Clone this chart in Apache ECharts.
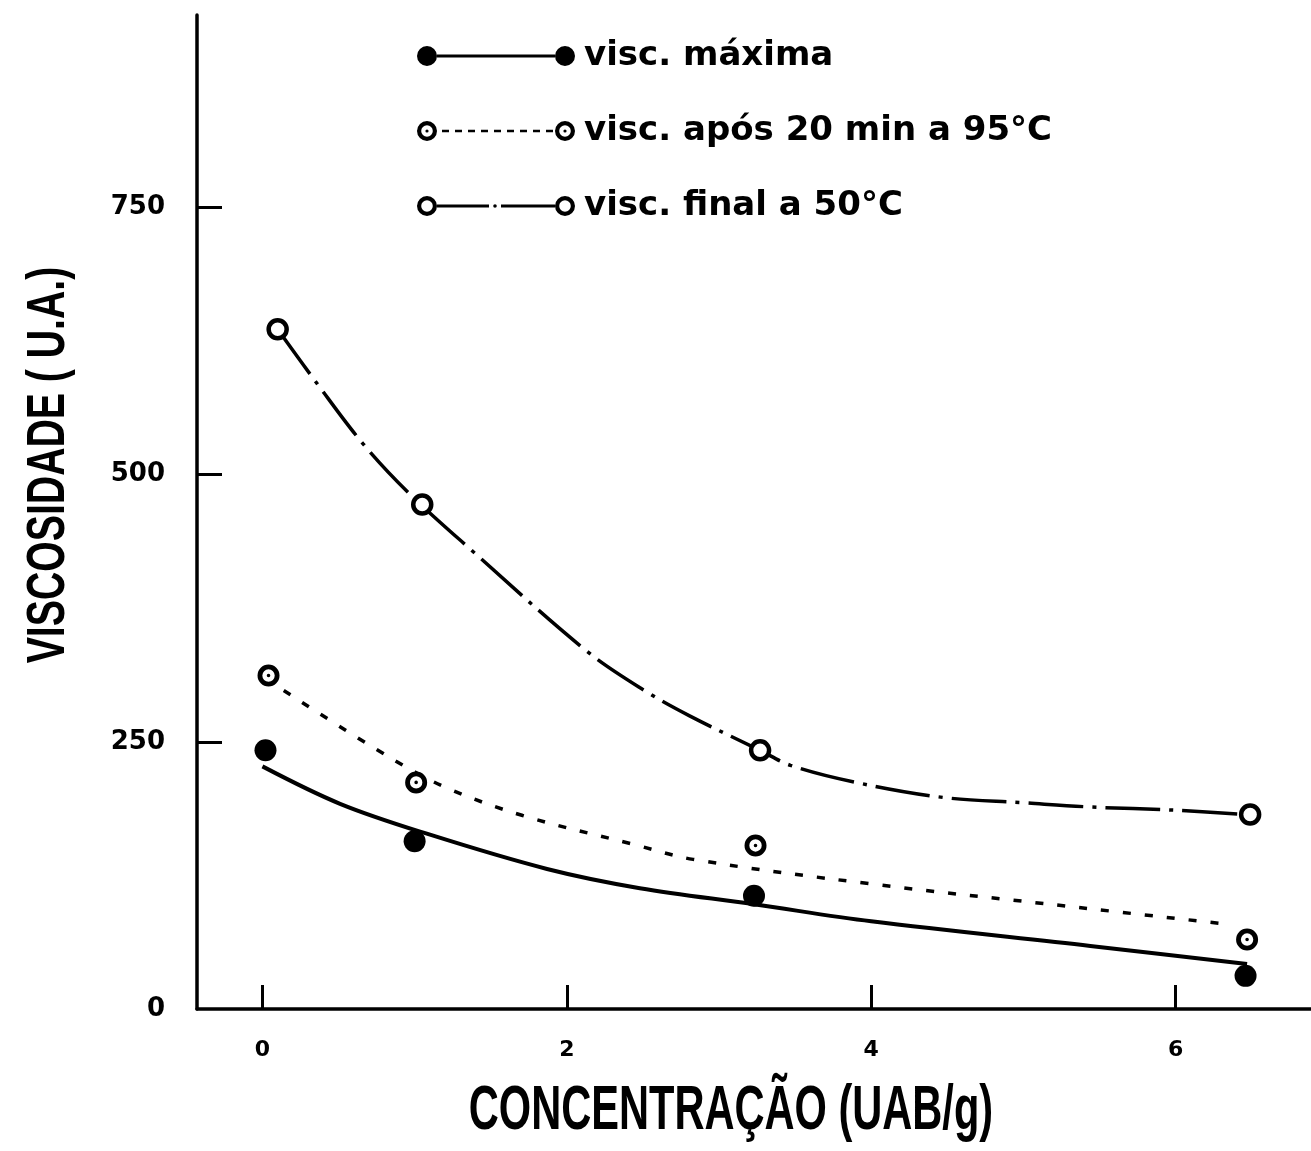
<!DOCTYPE html>
<html>
<head>
<meta charset="utf-8">
<script src="https://cdn.jsdelivr.net/npm/echarts@6/dist/echarts.min.js"></script>
<style>
  html, body { margin: 0; padding: 0; background: #fff; }
  #chart { width: 1311px; height: 1151px; }
</style>
</head>
<body>
<div id="chart"></div>
<script>
// Viscosidade do amido em função da concentração de enzima (UAB/g)

const seriesNames = ['visc. máxima', 'visc. após 20 min a 95°C', 'visc. final a 50°C'];
const xTicks = [0, 2, 4, 6];
const yTicks = [0, 250, 500, 750];
const yTickMarks = [250, 500, 750];
const xTitle = 'CONCENTRAÇÃO (UAB/g)';
const yTitle = 'VISCOSIDADE ( U.A.)';

// measured points
const maximaX = [0.02, 1.00, 3.23, 6.46];
const maximaY = [242, 157, 106, 31];
const aposX = [0.04, 1.01, 3.24, 6.47];
const aposY = [312, 212, 153, 65];
const finalX = [0.10, 1.05, 3.27, 6.49];
const finalY = [636, 472, 242, 182];

// hand-fitted curves
const curvaMaximaX = [0.00, 0.51, 1.08, 1.87, 2.48, 3.23, 4.00, 5.44, 6.47];
const curvaMaximaY = [227, 192, 164, 131, 113, 98, 82, 59, 42];
const curvaAposX = [0.14, 0.84, 1.21, 1.71, 2.44, 2.83, 4.00, 5.30, 6.36];
const curvaAposY = [298, 235, 207, 181, 154, 140, 117, 96, 79];
const curvaFinalX = [0.10, 0.36, 0.66, 0.96, 1.36, 2.13, 2.51, 2.81, 3.27, 3.47, 3.90, 4.47, 5.00, 5.44, 6.00, 6.45];
const curvaFinalY = [636, 585, 529, 483, 431, 335, 298, 274, 242, 228, 212, 198, 193, 189, 186, 182];

const pairs = (xs, ys) => xs.map((x, i) => [x, ys[i]]);

// --- symbol and legend icon shapes ---
function circ(cx, cy, r, cw) {
  const s = cw ? 1 : 0;
  return `M${cx - r},${cy}A${r},${r},0,1,${s},${cx + r},${cy}A${r},${r},0,1,${s},${cx - r},${cy}Z`;
}
function bar(x0, x1, cy, h) {
  return `M${x0},${cy - h / 2}L${x1},${cy - h / 2}L${x1},${cy + h / 2}L${x0},${cy + h / 2}Z`;
}
const ringDotSymbol = 'path://' + circ(11, 11, 11, true) + circ(11, 11, 6.2, false) + circ(11, 11, 1.8, true);

function ring(cx, withDot) {
  return circ(cx, 10, 10, true) + circ(cx, 10, 5.8, false) + (withDot ? circ(cx, 10, 1.6, true) : '');
}
const iconFilled = 'path://' + circ(10, 10, 10, true) + bar(20, 138, 10, 3) + circ(148, 10, 10, true);
let dashes = '';
for (let x = 25; x + 7 <= 136; x += 13) dashes += bar(x, x + 7, 10, 2.6);
const iconDotted = 'path://' + ring(10, true) + dashes + ring(148, true);
const iconOpen = 'path://' + ring(10, false) + bar(20, 72, 10, 2.8) + circ(78, 10, 1.8, true) + bar(84, 138, 10, 2.8) + ring(148, false);
const legendIcons = [iconFilled, iconDotted, iconOpen];

const labelFont = { fontFamily: 'DejaVu Sans', fontWeight: 'bold', color: '#000' };

const chart = echarts.init(document.getElementById('chart'), null, { renderer: 'canvas' });
chart.setOption({
  animation: false,
  backgroundColor: '#fff',
  grid: { left: 197, right: 0, top: 15, bottom: 142, containLabel: false },
  legend: {
    orient: 'vertical',
    left: 412,
    top: 31,
    itemWidth: 158,
    itemHeight: 20,
    itemGap: 35,
    selectedMode: false,
    data: seriesNames.map((n, i) => ({ name: n, icon: legendIcons[i] })),
    itemStyle: { color: '#000', borderWidth: 0 },
    textStyle: {
      fontFamily: 'DejaVu Sans', fontWeight: 'bold', fontSize: 34, color: '#000',
      lineHeight: 40, padding: [0, 0, 0, 4]
    }
  },
  xAxis: {
    type: 'value',
    min: -0.43,
    max: 6.89,
    axisLine: { show: true, lineStyle: { color: '#000', width: 3.5 } },
    axisTick: { show: true, inside: true, length: 24, customValues: xTicks, lineStyle: { color: '#000', width: 3 } },
    axisLabel: Object.assign({ customValues: xTicks, margin: 30, fontSize: 22 }, labelFont),
    splitLine: { show: false }
  },
  yAxis: {
    type: 'value',
    min: 0,
    max: 930,
    axisLine: { show: true, onZero: false, lineStyle: { color: '#000', width: 3.5 } },
    axisTick: { show: true, inside: true, length: 25, customValues: yTickMarks, lineStyle: { color: '#000', width: 3 } },
    axisLabel: Object.assign({ customValues: yTicks, margin: 32, fontSize: 26 }, labelFont),
    splitLine: { show: false }
  },
  graphic: [
    {
      type: 'text', x: 731, y: 1112, scaleX: 0.66,
      style: { text: xTitle, font: 'bold 63px "Liberation Sans"', fill: '#000', align: 'center', verticalAlign: 'middle' }
    },
    {
      type: 'text', x: 49, y: 465, rotation: Math.PI / 2, scaleX: 0.74,
      style: { text: yTitle, font: 'bold 53px "Liberation Sans"', fill: '#000', align: 'center', verticalAlign: 'middle' }
    }
  ],
  series: [
    {
      name: 'curva máxima', type: 'line', data: pairs(curvaMaximaX, curvaMaximaY),
      smooth: 0.35, symbol: 'none', silent: true, z: 2,
      lineStyle: { color: '#000', width: 4, type: 'solid' }
    },
    {
      name: 'curva após 20 min', type: 'line', data: pairs(curvaAposX, curvaAposY),
      smooth: 0.35, symbol: 'none', silent: true, z: 2,
      lineStyle: { color: '#000', width: 3.5, type: [8, 14] }
    },
    {
      name: 'curva final', type: 'line', data: pairs(curvaFinalX, curvaFinalY),
      smooth: 0.35, symbol: 'none', silent: true, z: 2,
      lineStyle: { color: '#000', width: 3.5, type: [55, 9, 4, 9] }
    },
    {
      name: seriesNames[0], type: 'scatter', data: pairs(maximaX, maximaY), z: 4,
      symbol: 'circle', symbolSize: 22,
      itemStyle: { color: '#000', borderWidth: 0, opacity: 1 }
    },
    {
      name: seriesNames[1], type: 'scatter', data: pairs(aposX, aposY), z: 4,
      symbol: ringDotSymbol, symbolSize: 22,
      itemStyle: { color: '#000', borderWidth: 0, opacity: 1 }
    },
    {
      name: seriesNames[2], type: 'scatter', data: pairs(finalX, finalY), z: 4,
      symbol: 'circle', symbolSize: 18,
      itemStyle: { color: '#fff', borderColor: '#000', borderWidth: 4.5, opacity: 1 }
    }
  ]
});
</script>
</body>
</html>
